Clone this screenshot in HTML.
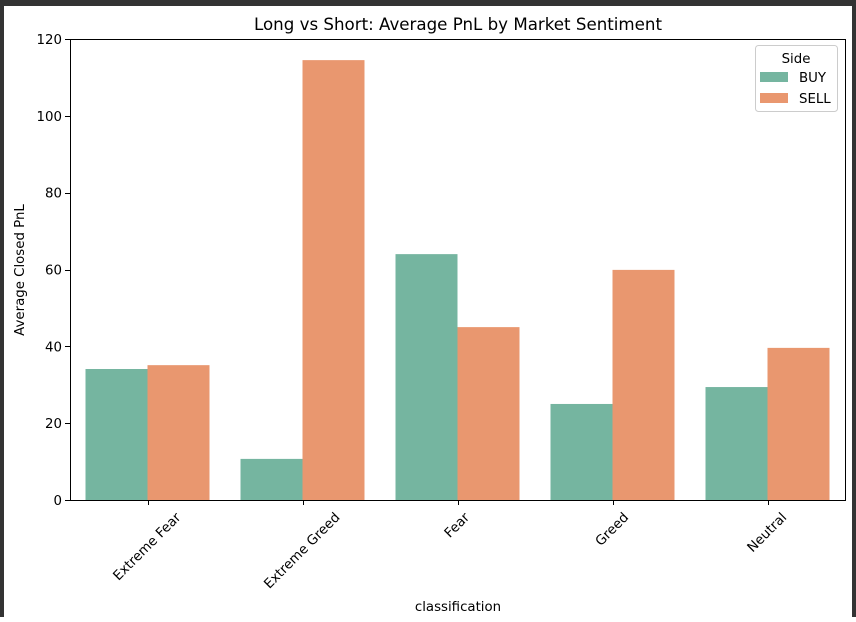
<!DOCTYPE html>
<html><head><meta charset="utf-8"><style>
html,body{margin:0;padding:0;background:#fff}
body{width:856px;height:617px;overflow:hidden}
text{font-family:"DejaVu Sans","Liberation Sans",sans-serif;fill:#000}
</style></head><body>
<svg id="chart" width="856" height="617" xmlns="http://www.w3.org/2000/svg">
<rect x="0" y="0" width="856" height="617" fill="#333"/>
<rect x="4" y="6" width="848" height="611" fill="#fff"/>
<text x="458" y="30" font-size="16.67" text-anchor="middle">Long vs Short: Average PnL by Market Sentiment</text>
<g id="plot"></g>
<text x="458" y="611" font-size="13.33" text-anchor="middle">classification</text>
<text transform="translate(24,270) rotate(-90)" font-size="13.33" text-anchor="middle">Average Closed PnL</text>
<g>
<rect x="755.5" y="45.5" width="82" height="66" rx="3" fill="#fff" stroke="#ccc"/>
<text x="796" y="63" font-size="13.33" text-anchor="middle">Side</text>
<rect x="760" y="72" width="28" height="10" fill="#75b5a0"/>
<text x="799" y="82" font-size="13.33">BUY</text>
<rect x="760" y="93" width="28" height="10" fill="#e9976f"/>
<text x="799" y="103" font-size="13.33">SELL</text>
</g>
</svg>
<script>
const categories=["Extreme Fear","Extreme Greed","Fear","Greed","Neutral"];
const buyValues=[34.1,10.7,64.0,25.0,29.4];
const sellValues=[35.1,114.5,45.0,59.9,39.6];
const yTicks=[0,20,40,60,80,100,120];
const NS="http://www.w3.org/2000/svg";
const L=70,R=845,T=39,B=500,yMax=120;
const g=document.getElementById('plot');
function y(v){return B-(v/yMax)*(B-T);}
const band=(R-L)/categories.length;
function xc(i){return L+band*(i+0.5);}
function mk(tag,attrs){const e=document.createElementNS(NS,tag);for(const k in attrs)e.setAttribute(k,attrs[k]);g.appendChild(e);return e;}
const bw=band*0.4;
categories.forEach((c,i)=>{
  const b=mk('rect',{x:xc(i)-bw,y:y(buyValues[i]),width:bw,height:B-y(buyValues[i]),fill:'#75b5a0'});
  
  
  const s=mk('rect',{x:xc(i),y:y(sellValues[i]),width:bw,height:B-y(sellValues[i]),fill:'#e9976f'});
  
  
  mk('line',{x1:Math.round(xc(i))+0.5,x2:Math.round(xc(i))+0.5,y1:B,y2:B+5,stroke:'#000'});
  const t=mk('text',{'font-size':13.33,'text-anchor':'middle','dominant-baseline':'central'});
  t.textContent=c;
  
  
  const len=t.getComputedTextLength();
  const half=(len+13)*0.7071/2;
  t.setAttribute('transform',`translate(${xc(i)},${B+11+half}) rotate(-45)`);
});
yTicks.forEach(v=>{
  mk('line',{x1:L-5,x2:L,y1:Math.round(y(v))+0.5,y2:Math.round(y(v))+0.5,stroke:'#000'});
  const t=mk('text',{x:L-8,y:y(v)+5,'font-size':13.33,'text-anchor':'end'});
  t.textContent=v;
  
  
});
const f=mk('rect',{x:L+0.5,y:T+0.5,width:R-L,height:B-T,fill:'none',stroke:'#000','stroke-width':1});


</script>
</body></html>
